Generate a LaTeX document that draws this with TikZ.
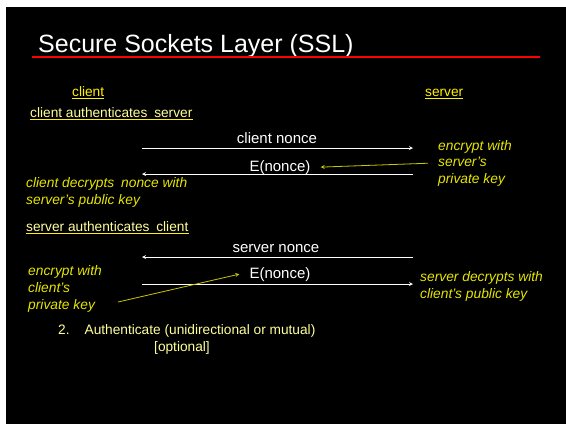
\documentclass[tikz,border=0pt]{standalone}
\usepackage{fontspec}
\setmainfont{Liberation Sans}
\usepackage{tikz}

\definecolor{paleyellow}{RGB}{255,255,153}
\definecolor{noteyellow}{RGB}{230,230,0}
\definecolor{linkyellow}{RGB}{200,200,0}

\begin{document}
\begin{tikzpicture}[x=1pt, y=-1pt, >=stealth,
    txt/.style={inner sep=0pt, anchor=base west, font=\fontsize{13.7}{16.5}\selectfont},
    note/.style={txt, text=noteyellow, align=left, font=\itshape\fontsize{13.8}{16.7}\selectfont},
    msg/.style={inner sep=0pt, anchor=base, text=white, font=\fontsize{15}{18}\selectfont},
    flow/.style={->, white, line width=0.8pt},
    hint/.style={->, linkyellow, line width=0.8pt},
    uline/.style={yellow, line width=1.3pt}]
  \useasboundingbox (0,0) rectangle (566,424);
  \fill[black] (6,7) rectangle (566,424);

  \node[txt, text=white, font=\fontsize{25}{30}\selectfont] (title) at (38,52) {Secure Sockets Layer (SSL)};
  \draw[red, line width=1.5pt] (32,57) -- (540,57);

  \node[txt, text=yellow] (client) at (72,96) {client};
  \node[txt, text=yellow] (server) at (425,96) {server};

  % client authenticates server
  \node[txt, text=paleyellow] (cas) at (30,117) {client authenticates\hspace{3pt} server};
  \coordinate (c1) at (142,148);
  \coordinate (s1) at (413,148);
  \coordinate (c2) at (142,174);
  \coordinate (s2) at (413,174);
  \node[msg] (cnonce) at (277,143) {client nonce};
  \node[msg] (enc1) at (280,171) {E(nonce)};
  \draw[flow] (c1) -- (s1);
  \draw[flow] (s2) -- (c2);
  \node[note] (skey) at (438,183.5) {encrypt with\\server’s\\private key};
  \node[note] (cdec) at (26,204) {client decrypts\hspace{3pt} nonce with\\server’s public key};
  \draw[hint] ([xshift=-10pt]skey.west) -- ([xshift=10pt]enc1.east);

  % server authenticates client
  \node[txt, text=paleyellow] (sac) at (26,231) {server authenticates\hspace{3pt} client};
  \coordinate (s3) at (413,257);
  \coordinate (c3) at (142,257);
  \coordinate (c4) at (142,284);
  \coordinate (s4) at (413,284);
  \node[msg] (snonce) at (276,252) {server nonce};
  \node[msg] (enc2) at (280,278) {E(nonce)};
  \draw[flow] (s3) -- (c3);
  \draw[flow] (c4) -- (s4);
  \node[note] (ckey) at (28,309) {encrypt with\\client’s\\private key};
  \node[note] (sdec) at (420,298) {server decrypts with\\client’s public key};
  \coordinate (ckeyend) at (118,302);
  \draw[hint] (ckeyend) -- ([xshift=-10pt]enc2.west);

  \node[txt, text=paleyellow] (auth) at (58,334) {2.\hspace{15pt}Authenticate (unidirectional or mutual)};
  \node[txt, text=paleyellow] (opt) at (154,351) {[optional]};

  % underlines
  \foreach \n in {client, server, cas, sac}
    \draw[uline] ([yshift=-2.5pt]\n.base west) -- ([yshift=-2.5pt]\n.base east);
\end{tikzpicture}
\end{document}
